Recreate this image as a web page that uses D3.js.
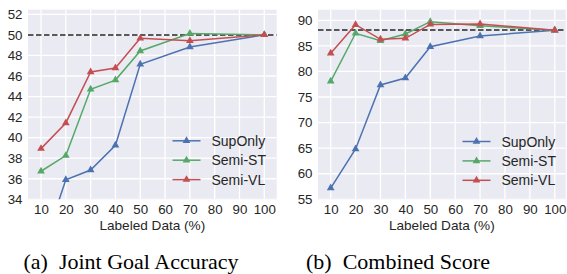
<!DOCTYPE html>
<html>
<head>
<meta charset="utf-8">
<script src="https://cdn.jsdelivr.net/npm/d3@7"></script>
<style>
  body { margin: 0; background: #fff; }
  svg { display: block; }
</style>
</head>
<body>
<svg id="chart" width="567" height="274"></svg>
<script>
const labeled = [10, 20, 30, 40, 50, 70, 100];
const xTicks = [10, 20, 30, 40, 50, 60, 70, 80, 90, 100];
const seriesNames = ["SupOnly", "Semi-ST", "Semi-VL"];

const jgaSupOnly = [28.7, 35.9, 36.85, 39.26, 47.14, 48.82, 50.0];
const jgaSemiST  = [36.73, 38.25, 44.7, 45.6, 48.43, 50.13, 50.0];
const jgaSemiVL  = [38.93, 41.43, 46.39, 46.78, 49.66, 49.43, 50.0];
const jgaRef = 50.0;
const jgaTicks = [34, 36, 38, 40, 42, 44, 46, 48, 50, 52];

const csSupOnly = [57.2, 64.83, 77.35, 78.72, 84.84, 86.93, 88.04];
const csSemiST  = [78.07, 87.46, 86.0, 87.32, 89.73, 88.95, 88.04];
const csSemiVL  = [83.55, 89.14, 86.28, 86.48, 89.2, 89.28, 88.04];
const csRef = 88.1;
const csTicks = [55, 60, 65, 70, 75, 80, 85, 90];

const captions = ["(a)\u00a0 Joint Goal Accuracy", "(b)\u00a0 Combined Score"];

const colors = ["#4C72B0", "#55A868", "#C44E52"];
const svg = d3.select("#chart");
const sans = "'Liberation Sans', Arial, sans-serif";

function panel(idx, cfg) {
  const g = svg.append("g");
  const x = d3.scaleLinear().domain(cfg.xDomain).range([cfg.left, cfg.right]);
  const y = d3.scaleLinear().domain(cfg.yDomain).range([cfg.bottom, cfg.top]);
  const clipId = "clip" + idx;
  svg.append("clipPath").attr("id", clipId).append("rect")
    .attr("x", cfg.left).attr("y", cfg.top)
    .attr("width", cfg.right - cfg.left).attr("height", cfg.bottom - cfg.top);

  g.append("rect").attr("x", cfg.left).attr("y", cfg.top)
    .attr("width", cfg.right - cfg.left).attr("height", cfg.bottom - cfg.top)
    .attr("fill", "#EAEAF2");

  // grid
  const grid = g.append("g").attr("clip-path", `url(#${clipId})`);
  grid.selectAll(".vx").data(xTicks).join("line")
    .attr("x1", d => x(d)).attr("x2", d => x(d))
    .attr("y1", cfg.top).attr("y2", cfg.bottom)
    .attr("stroke", "#fff").attr("stroke-width", 1.3);
  grid.selectAll(".hy").data(cfg.yTicks).join("line")
    .attr("y1", d => y(d)).attr("y2", d => y(d))
    .attr("x1", cfg.left).attr("x2", cfg.right)
    .attr("stroke", "#fff").attr("stroke-width", 1.3);

  // axes (ticks labels only)
  const xAxis = g.append("g").attr("transform", `translate(0,${cfg.bottom})`)
    .call(d3.axisBottom(x).tickValues(xTicks).tickSize(0).tickPadding(5).tickFormat(d3.format("d")));
  xAxis.select(".domain").remove();
  xAxis.selectAll("text").attr("font-family", sans).attr("font-size", 13.3).attr("fill", "#262626");

  const yAxis = g.append("g").attr("transform", `translate(${cfg.left},0)`)
    .call(d3.axisLeft(y).tickValues(cfg.yTicks).tickSize(0).tickPadding(5.5).tickFormat(d3.format("d")));
  yAxis.select(".domain").remove();
  yAxis.selectAll("text").attr("font-family", sans).attr("font-size", 13.3).attr("fill", "#262626");

  g.append("text").attr("x", (cfg.left + cfg.right) / 2).attr("y", 229.5)
    .attr("text-anchor", "middle").attr("font-family", sans).attr("font-size", 13.6)
    .attr("fill", "#262626").text("Labeled Data (%)");

  // reference line
  const plot = g.append("g").attr("clip-path", `url(#${clipId})`);
  plot.append("line").attr("x1", cfg.left).attr("x2", cfg.right)
    .attr("y1", y(cfg.ref)).attr("y2", y(cfg.ref))
    .attr("stroke", "#262626").attr("stroke-width", 1.5).attr("stroke-dasharray", "5.5,2.5");

  const line = d3.line().x((d, i) => x(labeled[i])).y(d => y(d));
  const tri = d3.symbol().type(d3.symbolTriangle).size(26);
  cfg.series.forEach((vals, si) => {
    plot.append("path").attr("d", line(vals)).attr("fill", "none")
      .attr("stroke", colors[si]).attr("stroke-width", 1.5);
    plot.selectAll(".m" + si).data(vals).join("path")
      .attr("transform", (d, i) => `translate(${x(labeled[i])},${y(d)})`)
      .attr("d", tri).attr("fill", colors[si]);
  });

  // legend
  const lg = g.append("g");
  seriesNames.forEach((name, si) => {
    const yy = cfg.legendY + si * 19.4;
    lg.append("line").attr("x1", cfg.legendX).attr("x2", cfg.legendX + 28)
      .attr("y1", yy).attr("y2", yy).attr("stroke", colors[si]).attr("stroke-width", 1.5);
    lg.append("path").attr("transform", `translate(${cfg.legendX + 14},${yy})`)
      .attr("d", tri).attr("fill", colors[si]);
    lg.append("text").attr("x", cfg.legendX + 39).attr("y", yy).attr("dy", "0.36em")
      .attr("font-family", sans).attr("font-size", 14).attr("fill", "#262626").text(name);
  });

  svg.append("text").attr("x", cfg.capX).attr("y", 269).attr("text-anchor", "middle")
    .attr("font-family", "'Liberation Serif', 'Times New Roman', serif").attr("font-size", 22)
    .attr("fill", "#000").text(captions[idx]);
}

panel(0, {
  left: 28, right: 276.7, top: 9.7, bottom: 199.3,
  xDomain: [4.76, 105], yDomain: [34, 52.45], yTicks: jgaTicks, ref: jgaRef,
  series: [jgaSupOnly, jgaSemiST, jgaSemiVL],
  legendX: 172.5, legendY: 140.8, capX: 131
});
panel(1, {
  left: 318, right: 565.7, top: 9.7, bottom: 199.3,
  xDomain: [4.9, 104.4], yDomain: [55, 92.07], yTicks: csTicks, ref: csRef,
  series: [csSupOnly, csSemiST, csSemiVL],
  legendX: 462.5, legendY: 141.5, capX: 398
});
</script>
</body>
</html>
